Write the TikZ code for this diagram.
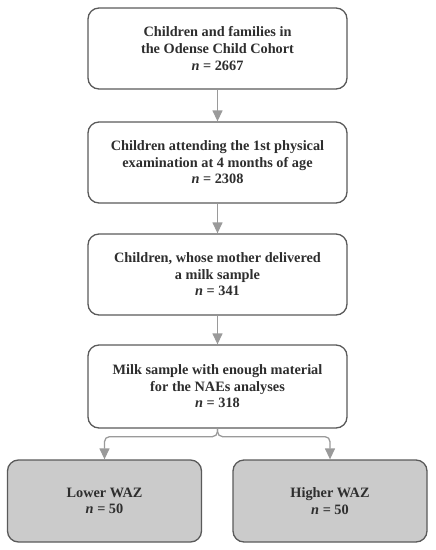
\documentclass[tikz,border=0pt]{standalone}
\usepackage{fontspec}
\setmainfont{Liberation Serif}
\usetikzlibrary{arrows.meta}

\definecolor{boxGrey}{HTML}{5A5A5A}
\definecolor{arrowGrey}{HTML}{9A9A9A}
\definecolor{groupFill}{HTML}{CBCBCB}
\definecolor{textGrey}{HTML}{2E2E2E}

\tikzset{
	stage/.style={draw=boxGrey, line width=1.3pt, rounded corners=11pt, fill=white,
		minimum width=259pt, minimum height=81pt, align=center, inner sep=0pt,
		text=textGrey, font=\fontsize{14.3}{16.6}\selectfont\bfseries},
	group/.style={stage, fill=groupFill, minimum width=194pt, minimum height=82pt},
	flow/.style={draw=arrowGrey, line width=1.3pt, -{Triangle[length=11pt,width=10pt]}}
}

\begin{document}
\begin{tikzpicture}[x=1pt, y=1pt]

	% page frame
	\useasboundingbox (0,0) rectangle (436,-550);

	% main column
	\def \colCentre {217.5};
	\node [stage] (cohort) at (\colCentre,-48.5) {Children and families in\\the Odense Child Cohort\\\textit{n} = 2667};
	\node [stage] (exam) at (\colCentre,-162.5) {Children attending the 1st physical\\examination at 4 months of age\\\textit{n} = 2308};
	\node [stage] (milk) at (\colCentre,-274.5) {Children, whose mother delivered\\a milk sample\\\textit{n} = 341};
	\node [stage, minimum height=83pt] (naes) at (\colCentre,-386.5) {Milk sample with enough material\\for the NAEs analyses\\\textit{n} = 318};

	% WAZ groups
	\node [group] (lower) at (104.5,-501) {Lower WAZ\\\textit{n} = 50};
	\node [group] (higher) at (330,-501) {Higher WAZ\\\textit{n} = 50};

	% arrows down the column
	\draw [flow] (cohort) -- (exam);
	\draw [flow] (exam) -- (milk);
	\draw [flow] (milk) -- (naes);

	% split into the two groups
	\draw [flow, rounded corners=5pt] (naes.south) -- ++(0,-8) -| (lower.north);
	\draw [flow, rounded corners=5pt] (naes.south) -- ++(0,-8) -| (higher.north);

\end{tikzpicture}
\end{document}
